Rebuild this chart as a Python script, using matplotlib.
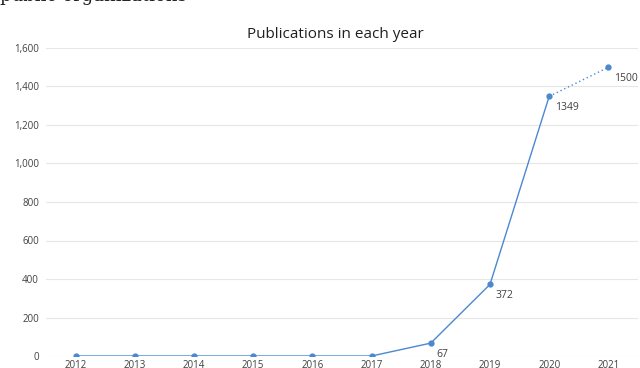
import matplotlib.pyplot as plt
from matplotlib.ticker import FuncFormatter

years = ['2012', '2013', '2014', '2015', '2016', '2017', '2018', '2019', '2020', '2021']
pubs = [0, 0, 0, 0, 0, 0, 67, 372, 1349, 1500]
labelled = [6, 7, 8, 9]

plt.rcParams['font.family'] = ['Open Sans', 'DejaVu Sans']
line_color = '#4a88d0'

fig = plt.figure(figsize=(6.4, 3.68), dpi=100)
ax = fig.add_axes([46 / 640, 12 / 368, 592 / 640, 308 / 368])

x = list(range(len(years)))
# solid for actual years, dotted for the last (projected) one
ax.plot(x[:-1], pubs[:-1], color=line_color, lw=1.0)
ax.plot(x[-2:], pubs[-2:], color=line_color, lw=1.0, ls=(0, (1, 2)))
ax.plot(x, pubs, 'o', color=line_color, ms=3.5)

for i in labelled:
    ax.annotate(str(pubs[i]), (x[i], pubs[i]), xytext=(4, -10),
                textcoords='offset points', fontsize=7.5, color='#404040')

ax.set_xlim(-0.5, len(years) - 0.5)
ax.set_ylim(0, 1600)
ax.set_yticks(range(0, 1601, 200))
ax.yaxis.set_major_formatter(FuncFormatter(lambda v, p: f'{int(v):,}'))
ax.set_xticks(x)
ax.set_xticklabels(years)
ax.tick_params(axis='both', length=0, labelsize=7, colors='#404040')
ax.tick_params(axis='x', pad=3)
ax.tick_params(axis='y', pad=5)
ax.grid(axis='y', color='#e6e6e6', lw=0.8)
ax.set_axisbelow(True)
for s in ax.spines.values():
    s.set_visible(False)

fig.text(335 / 640, 1 - 34 / 368, 'Publications in each year', ha='center', va='center',
         fontsize=11, color='#202020')
# cut-off caption text from the page above the chart
fig.text(0.0, 1.0 - 1 / 368, 'public organizations', ha='left', va='baseline',
         fontsize=13, family='DejaVu Serif', color='#202020')

fig.savefig('out.png', dpi=100)
